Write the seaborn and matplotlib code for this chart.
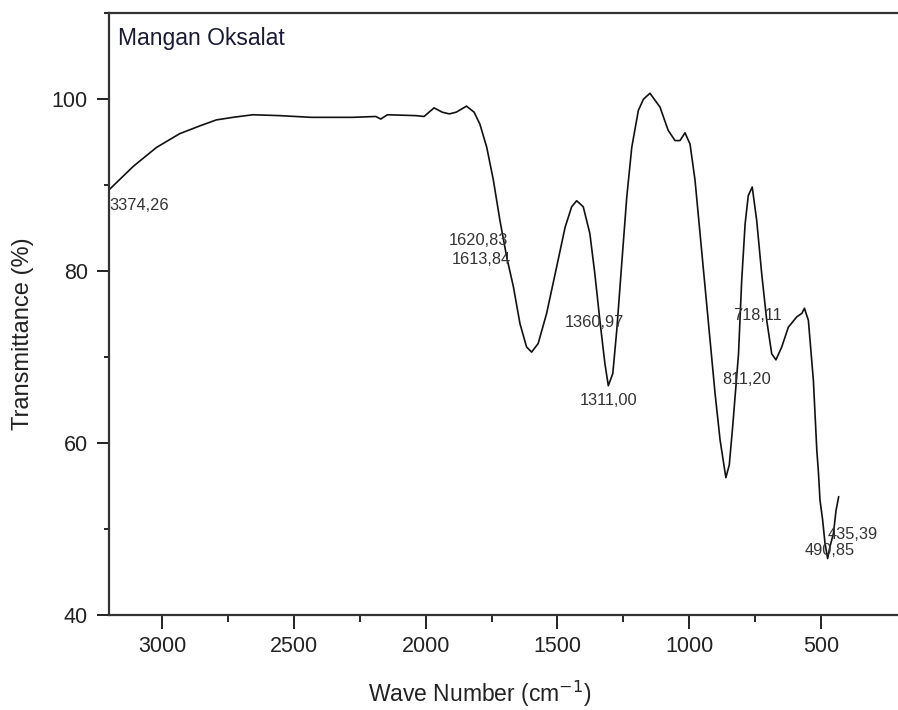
import matplotlib
matplotlib.use("Agg")
import matplotlib.pyplot as plt
import seaborn as sns
import pandas as pd

# FTIR spectrum of manganese oxalate
wavenumber = [3200, 3109, 3021, 2933, 2857, 2794, 2731, 2655, 2554, 2434, 2277, 2189,
              2170, 2145, 2037, 2006, 1968, 1937, 1910, 1884, 1845, 1816, 1794, 1768,
              1743, 1718, 1692, 1667, 1642, 1617, 1598, 1573, 1541, 1503, 1471, 1446,
              1427, 1402, 1377, 1358, 1339, 1320, 1307, 1290, 1275, 1256, 1237, 1218,
              1193, 1174, 1149, 1111, 1080, 1054, 1035, 1016, 997, 978, 959, 940, 921,
              902, 883, 861, 848, 835, 813, 801, 788, 776, 761, 744, 725, 706, 687, 671,
              649, 624, 592, 573, 563, 548, 529, 516, 510, 504, 494, 485, 475, 466, 453,
              443, 433]
transmittance = [89.5, 92.2, 94.4, 96.0, 96.9, 97.6, 97.9, 98.2, 98.1, 97.9, 97.9, 98.0,
                 97.7, 98.2, 98.1, 98.0, 99.0, 98.5, 98.3, 98.5, 99.2, 98.5, 97.1, 94.4,
                 90.6, 85.9, 81.6, 78.2, 73.9, 71.2, 70.6, 71.6, 75.1, 80.5, 85.1, 87.5,
                 88.2, 87.5, 84.4, 79.7, 74.3, 69.3, 66.7, 68.1, 73.1, 80.9, 88.6, 94.4,
                 98.7, 100.0, 100.7, 99.1, 96.4, 95.2, 95.2, 96.1, 94.8, 90.6, 84.4, 78.2,
                 72.0, 65.8, 60.4, 56.0, 57.5, 62.0, 70.4, 78.9, 85.5, 88.8, 89.8, 85.9,
                 79.7, 74.3, 70.4, 69.7, 71.2, 73.5, 74.7, 75.1, 75.7, 74.3, 67.3, 59.2,
                 56.7, 53.4, 51.1, 48.4, 46.6, 48.0, 49.5, 52.2, 53.8]

# Peak labels and where they are written (text anchor, top-left)
peak_labels = ["3374,26", "1620,83", "1613,84", "1360,97", "1311,00",
               "718,11", "811,20", "435,39", "490,85"]
label_x = [3200, 1911, 1900, 1471, 1414, 834, 876, 474, 561]
label_y = [88.5, 84.4, 82.3, 74.9, 65.9, 75.7, 68.3, 50.3, 48.4]

x_ticks = [3000, 2500, 2000, 1500, 1000, 500]
y_ticks = [40, 60, 80, 100]

sns.set_style("ticks")
plt.rcParams["font.family"] = ["Liberation Sans", "DejaVu Sans"]

df = pd.DataFrame({"wn": wavenumber, "T": transmittance})

fig = plt.figure(figsize=(8.98, 7.10), dpi=100)
ax = fig.add_axes([0.1217, 0.1334, 0.8783, 0.8479])

sns.lineplot(data=df, x="wn", y="T", sort=False, color="#111111",
             linewidth=1.2, ax=ax)

ax.set_xlim(3200, 208)
ax.set_ylim(40, 110)
ax.set_xticks(x_ticks)
ax.set_xticks([2750, 2250, 1750, 1250, 750], minor=True)
ax.set_yticks(y_ticks)
ax.set_yticks([50, 70, 90, 110], minor=True)

text_color = "#222222"
ax.tick_params(axis="x", which="major", direction="out", length=10, width=1.4,
               labelsize=15.5, pad=5, colors="#222222")
ax.tick_params(axis="x", which="minor", direction="out", length=5, width=1.4)
ax.tick_params(axis="y", which="major", direction="out", length=8.5, width=1.4,
               labelsize=15.5, pad=7, colors="#222222")
ax.tick_params(axis="y", which="minor", direction="out", length=3.5, width=1.4)

for side in ["left", "bottom", "top"]:
    ax.spines[side].set_visible(True)
    ax.spines[side].set_linewidth(1.6)
    ax.spines[side].set_color("#333333")
ax.spines["right"].set_visible(False)

ax.set_xlabel("Wave Number (cm$^{-1}$)", fontsize=16.5, color=text_color)
ax.xaxis.set_label_coords(0.469, -0.105)
ax.set_ylabel("Transmittance (%)", fontsize=17, color=text_color)
ax.yaxis.set_label_coords(-0.095, 0.467)

ax.text(0.011, 0.977, "Mangan Oksalat", transform=ax.transAxes, ha="left", va="top",
        fontsize=16.5, color="#1a1a33")

for lbl, lx, ly in zip(peak_labels, label_x, label_y):
    ax.text(lx, ly, lbl, ha="left", va="top", fontsize=11.8, color="#333333")

fig.savefig("out.png", dpi=100)
